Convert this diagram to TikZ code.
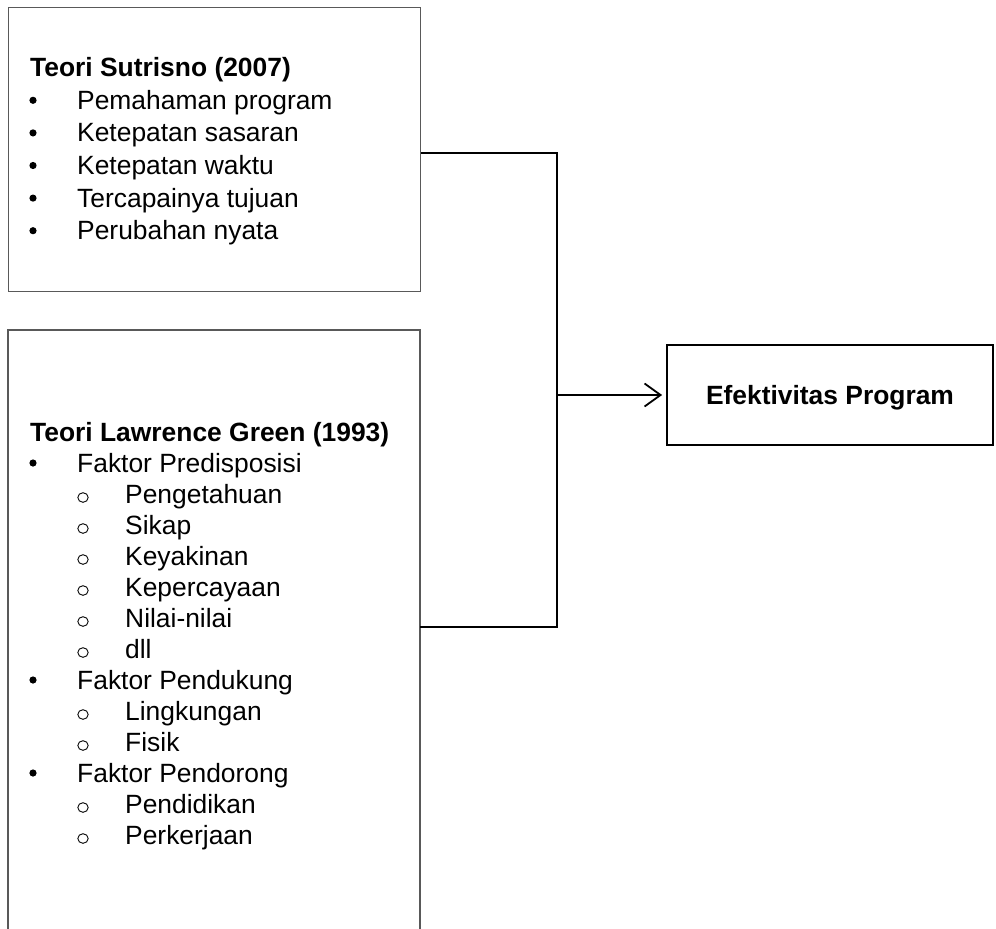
\documentclass[tikz,border=0pt]{standalone}
\usepackage{fontspec}
\setmainfont{Liberation Sans}
\usetikzlibrary{arrows.meta}
\begin{document}
\begin{tikzpicture}[x=1pt,y=-1pt,
  boxline/.style={draw=black!65, line width=1.2pt},
  conn/.style={draw=black, line width=1.8pt},
  txt/.style={anchor=base west, inner sep=0pt, font=\fontsize{26.4pt}{30pt}\selectfont},
  btxt/.style={anchor=base west, inner sep=0pt, font=\fontsize{26.4pt}{30pt}\selectfont\bfseries},
  ring/.style={draw=black, line width=0.9pt}]
\fill[white] (0,0) rectangle (996,929);
\useasboundingbox (0,0) rectangle (996,929);

% boxes
\node[boxline, minimum width=412pt, minimum height=284pt, anchor=north west, inner sep=0pt] (sut) at (8,7) {};
\node[minimum width=412pt, minimum height=599pt, anchor=north west, inner sep=0pt, outer sep=0pt] (grn) at (8,330) {};
\draw[boxline] (grn.south west) -- (grn.north west) -- (grn.north east) -- (grn.south east);
\node[draw=black, line width=1.8pt, minimum width=326pt, minimum height=100pt, inner sep=0pt,
      font=\fontsize{26.4pt}{30pt}\selectfont\bfseries, text height=19pt, text depth=0pt] (ef) at (830,395) {Efektivitas Program};

% top box text
\node[btxt] (s0) at (30,76.7) {Teori Sutrisno (2007)};
\foreach \n/\y/\t in {1/109.3/Pemahaman program, 2/141.9/Ketepatan sasaran, 3/174.5/Ketepatan waktu, 4/207.1/Tercapainya tujuan, 5/239.7/Perubahan nyata} {
  \node[txt] (s\n) at (77,\y) {\t};
  \fill[black] (33,\y-9) circle (3.6);
}

% bottom box text
\node[btxt] (g0) at (30,441) {Teori Lawrence Green (1993)};
\foreach \n/\y/\t in {1/472/Faktor Predisposisi, 8/689/Faktor Pendukung, 11/782/Faktor Pendorong} {
  \node[txt] (g\n) at (77,\y) {\t};
  \fill[black] (33,\y-9) circle (3.6);
}
\foreach \n/\y/\t in {2/503/Pengetahuan, 3/534/Sikap, 4/565/Keyakinan, 5/596/Kepercayaan, 6/627/Nilai-nilai, 7/658/dll, 9/720/Lingkungan, 10/751/Fisik, 12/813/Pendidikan, 13/844/Perkerjaan} {
  \node[txt] (g\n) at (125,\y) {\t};
  \draw[ring] (83,\y-5.5) ellipse [x radius=5.2, y radius=4.8];
}

% connectors
\coordinate (ya) at (0,153);
\coordinate (yb) at (0,627);
\coordinate (jx) at (557,395);
\draw[conn] (sut.east |- ya) -| (jx);
\draw[conn] (grn.east |- yb) -| (jx);
\draw[conn, -{Straight Barb[length=16pt,width=23pt]}, shorten >=4pt] (jx) -- (ef.west);
\end{tikzpicture}
\end{document}
